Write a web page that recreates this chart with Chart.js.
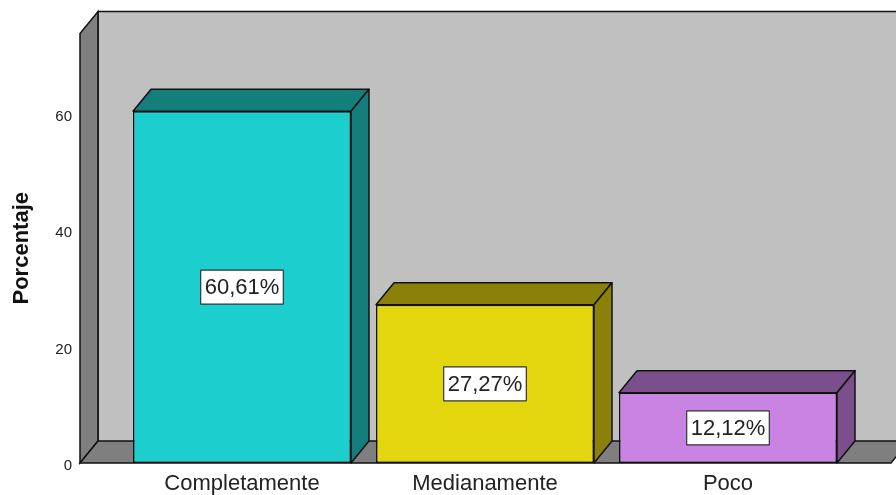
<!DOCTYPE html>
<html>
<head>
<meta charset="utf-8">
<script src="https://cdn.jsdelivr.net/npm/chart.js@4.4.0/dist/chart.umd.min.js"></script>
<style>
  html, body { margin: 0; padding: 0; background: #fff; }
  #wrap { width: 896px; height: 495px; }
</style>
</head>
<body>
<div id="wrap"><canvas id="chart" width="896" height="495"></canvas></div>
<script>
// data
const categories = ['Completamente', 'Medianamente', 'Poco'];
const percentages = [60.61, 27.27, 12.12];
const valueLabels = ['60,61%', '27,27%', '12,12%'];
const yTicks = [0, 20, 40, 60];

// bar colours (front face / darker top+side)
const frontColors = ['#1ccece', '#e3d60f', '#c983e3'];
const shadeColors = ['#137e7c', '#8a800a', '#7b4f8b'];

// 3D depth offset in pixels
const DX = 18, DY = -22;

const box3d = {
  id: 'box3d',
  beforeDatasetsDraw(chart) {
    const ctx = chart.ctx;
    const a = chart.chartArea;
    const y = chart.scales.y;
    const y0 = y.getPixelForValue(0);
    const yTop = a.top;
    const xl = a.left - 40.5;
    const xr = a.right + 41.5;
    ctx.save();
    ctx.lineWidth = 1.5;
    ctx.strokeStyle = '#111';
    // back wall
    ctx.fillStyle = '#c0c0c0';
    ctx.fillRect(xl + DX, yTop + DY, 1000, y0 - yTop);
    ctx.beginPath();
    ctx.moveTo(xl + DX, y0 + DY);
    ctx.lineTo(xl + DX, yTop + DY);
    ctx.lineTo(chart.width + 5, yTop + DY);
    ctx.stroke();
    // left wall
    ctx.fillStyle = '#7f7f7f';
    ctx.beginPath();
    ctx.moveTo(xl, yTop);
    ctx.lineTo(xl + DX, yTop + DY);
    ctx.lineTo(xl + DX, y0 + DY);
    ctx.lineTo(xl, y0);
    ctx.closePath();
    ctx.fill();
    ctx.stroke();
    // floor
    ctx.beginPath();
    ctx.moveTo(xl, y0);
    ctx.lineTo(xl + DX, y0 + DY);
    ctx.lineTo(xr + DX, y0 + DY);
    ctx.lineTo(xr, y0);
    ctx.closePath();
    ctx.fill();
    ctx.stroke();
    ctx.restore();
  },
  afterDatasetsDraw(chart) {
    const ctx = chart.ctx;
    const meta = chart.getDatasetMeta(0);
    ctx.save();
    ctx.lineJoin = 'round';
    meta.data.forEach((bar, i) => {
      const p = bar.getProps(['x', 'y', 'base', 'width'], true);
      const l = p.x - p.width / 2, r = p.x + p.width / 2;
      ctx.lineWidth = 1.5;
      ctx.strokeStyle = '#111';
      ctx.fillStyle = shadeColors[i];
      // top face
      ctx.beginPath();
      ctx.moveTo(l, p.y);
      ctx.lineTo(l + DX, p.y + DY);
      ctx.lineTo(r + DX, p.y + DY);
      ctx.lineTo(r, p.y);
      ctx.closePath();
      ctx.fill();
      ctx.stroke();
      // side face
      ctx.beginPath();
      ctx.moveTo(r, p.y);
      ctx.lineTo(r + DX, p.y + DY);
      ctx.lineTo(r + DX, p.base + DY);
      ctx.lineTo(r, p.base);
      ctx.closePath();
      ctx.fill();
      ctx.stroke();
      // value label box
      ctx.font = '22px "Liberation Sans", Arial, sans-serif';
      const tw = ctx.measureText(valueLabels[i]).width;
      const cy = (p.y + p.base) / 2;
      const bw = tw + 8, bh = 34;
      ctx.fillStyle = '#fff';
      ctx.fillRect(p.x - bw / 2, cy - bh / 2, bw, bh);
      ctx.lineWidth = 1.2;
      ctx.strokeStyle = '#333';
      ctx.strokeRect(p.x - bw / 2, cy - bh / 2, bw, bh);
      ctx.fillStyle = '#222';
      ctx.textAlign = 'center';
      ctx.textBaseline = 'middle';
      ctx.fillText(valueLabels[i], p.x, cy + 1);
    });
    ctx.restore();
  }
};

new Chart(document.getElementById('chart'), {
  type: 'bar',
  data: {
    labels: categories,
    datasets: [{
      data: percentages,
      backgroundColor: frontColors,
      borderColor: '#111',
      borderWidth: 1.5,
      borderSkipped: false,
      barPercentage: 0.897,
      categoryPercentage: 1
    }]
  },
  options: {
    responsive: false,
    animation: false,
    layout: { padding: { top: 33.5, right: 46.5, left: 0, bottom: 0 } },
    plugins: { legend: { display: false }, tooltip: { enabled: false } },
    scales: {
      x: {
        afterFit(scale) { scale.height = 32; },
        grid: { display: false, drawTicks: false },
        border: { display: false },
        ticks: {
          padding: 7.5,
          color: '#222',
          font: { family: '"Liberation Sans", Arial, sans-serif', size: 22 }
        }
      },
      y: {
        min: 0,
        max: 74,
        afterFit(scale) {
          scale.width = 120.5;
          scale.paddingTop = 8;
          scale.paddingBottom = 8;
        },
        afterBuildTicks(scale) { scale.ticks = yTicks.map(v => ({ value: v })); },
        grid: { display: false, drawTicks: false },
        border: { display: false },
        ticks: {
          padding: 48.5,
          labelOffset: 2.5,
          color: '#222',
          font: { family: '"Liberation Sans", Arial, sans-serif', size: 15 }
        },
        title: {
          display: true,
          text: 'Porcentaje',
          color: '#111',
          padding: { top: 9, bottom: 0 },
          font: { family: '"Liberation Sans", Arial, sans-serif', size: 22, weight: 'bold' }
        }
      }
    }
  },
  plugins: [box3d]
});
</script>
</body>
</html>
